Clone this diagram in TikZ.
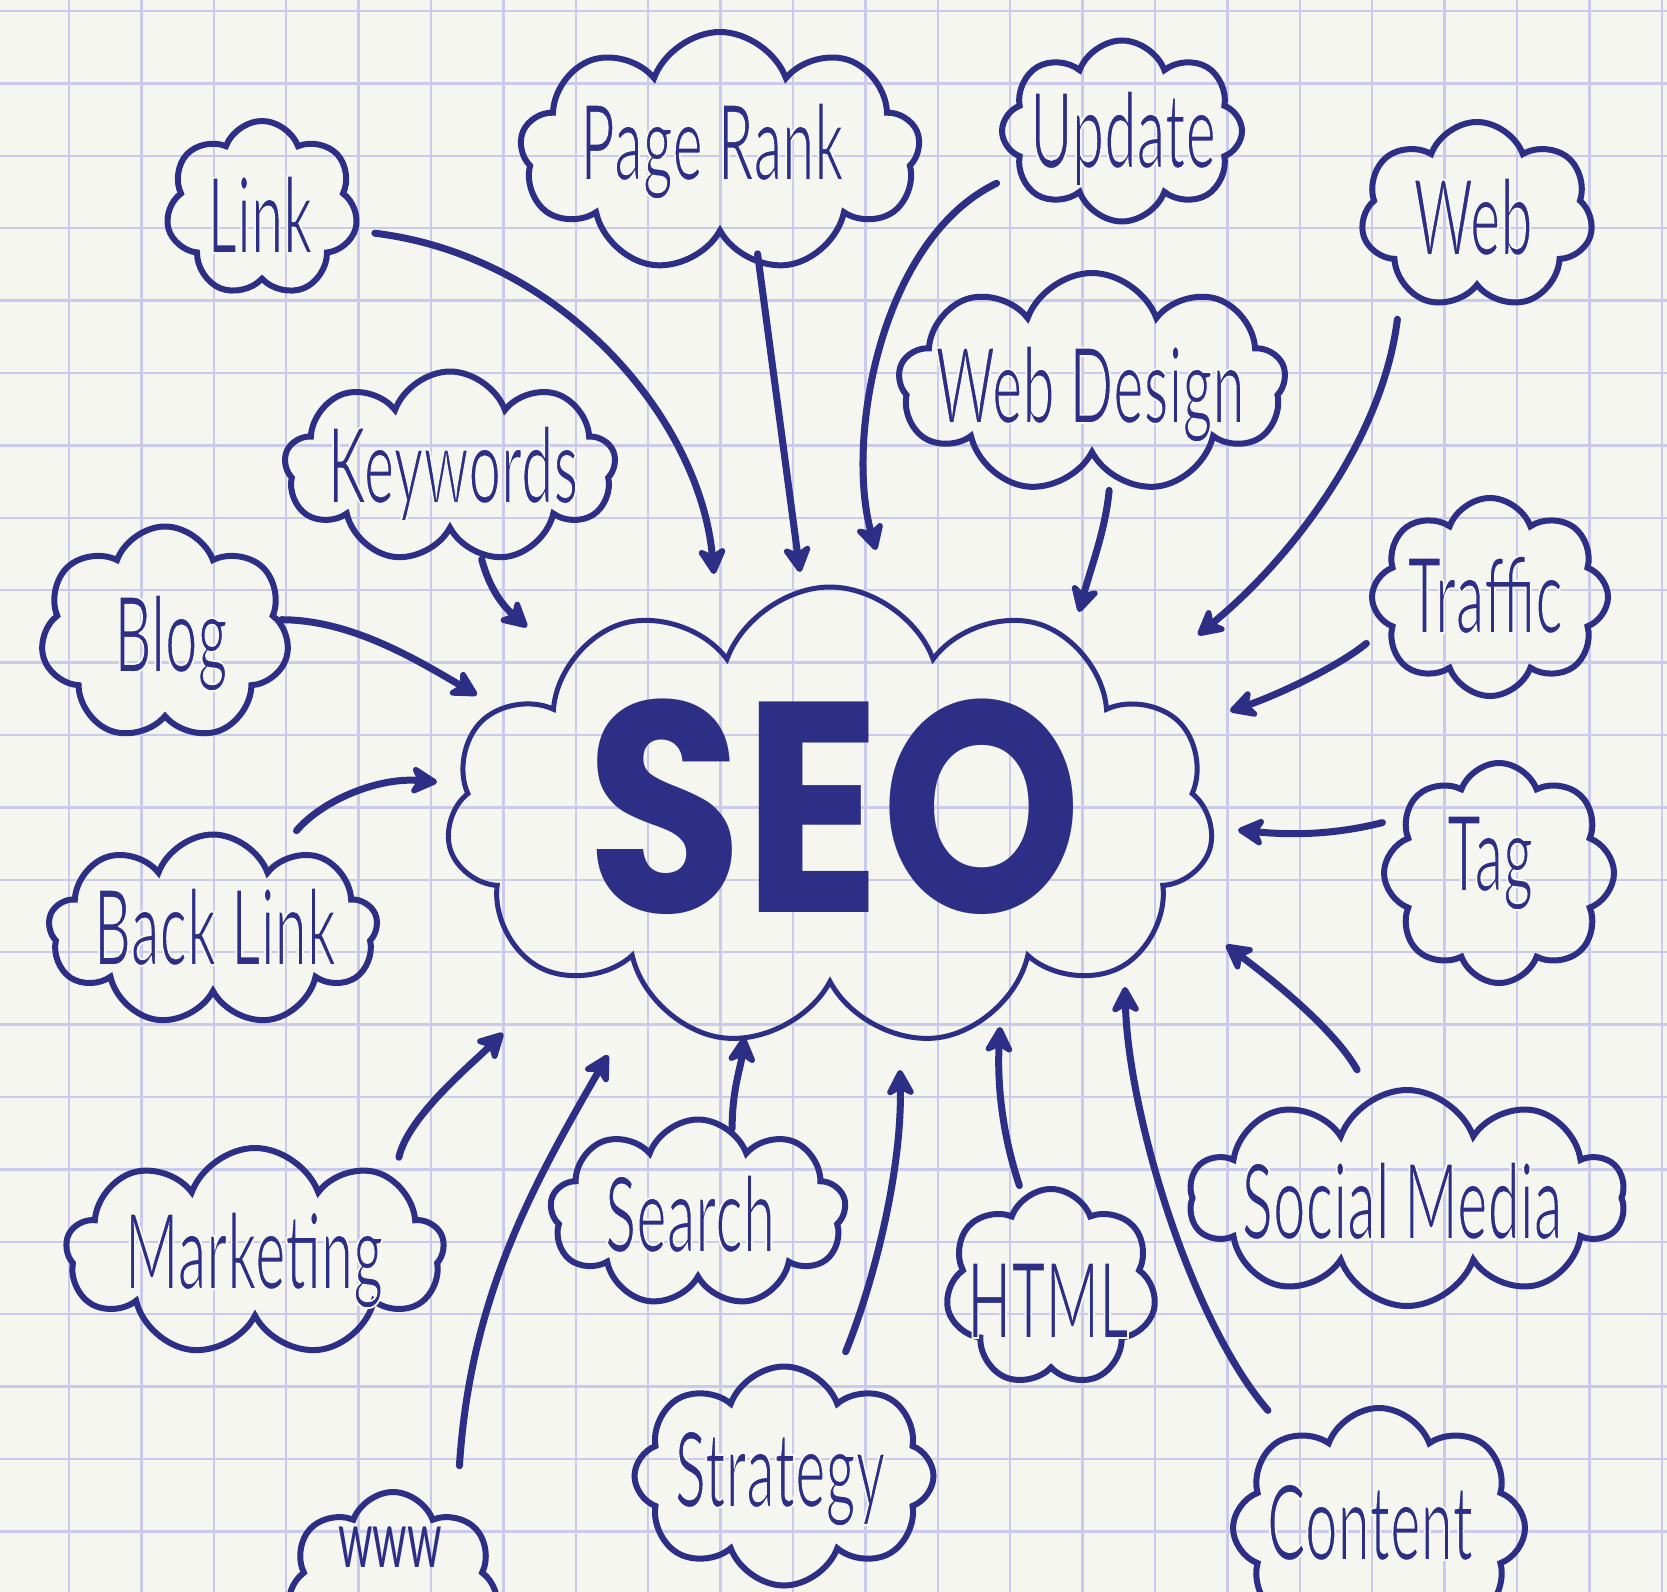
\documentclass[tikz,border=0pt]{standalone}
\usepackage{fontspec}
\usetikzlibrary{shapes.symbols,arrows.meta}

\newfontfamily\handfont{Lato}[FakeStretch=0.55]
\newfontfamily\seofont{Poppins}[FakeStretch=0.85]

\definecolor{paper}{RGB}{245,246,240}
\definecolor{gridblue}{RGB}{203,201,236}
\definecolor{ink}{RGB}{45,46,134}

% thin pen: glyphs get a paper coloured rim, so the strokes look finer
\newcommand{\pen}[1]{\special{pdf:bcolor [0.176 0.180 0.525] [0.961 0.965 0.941]}%
  \special{pdf:literal 2 Tr 1.8 w}#1\special{pdf:literal 0 Tr}\special{pdf:ecolor}}

\tikzset{
  gridline/.style={gridblue, line width=2.5pt},
  bubble/.style={cloud, cloud puffs=8, cloud puff arc=140, cloud ignores aspect,
    draw=ink, line width=6pt, inner sep=0pt},
  word/.style={text=ink, anchor=base, inner sep=0pt,
    font=\handfont\fontsize{105}{110}\selectfont},
  pointer/.style={draw=ink, line width=7pt, line cap=round,
    -{Stealth[length=32pt, width=34pt, inset=9pt, round]}}
}

\begin{document}
\begin{tikzpicture}[x=1pt, y=-1pt]
    % Paper and its grid
    \useasboundingbox (0,0) rectangle (1667,1592);
    \clip (0,0) rectangle (1667,1592);
    \fill[paper] (0,0) rectangle (1667,1592);
    \foreach \i in {0,...,22}
        \draw[gridline] ({69+72.4*\i},0) -- ({69+72.4*\i},1592);
    \foreach \j in {0,...,21}
        \draw[gridline] (0,{11+72.4*\j}) -- (1667,{11+72.4*\j});

    % The big cloud in the middle
    \node[bubble, cloud puffs=11, line width=5pt,
          minimum width=767pt, minimum height=460pt] (seo) at (830,817) {};
    \node[text=ink, anchor=base, inner sep=0pt,
          font=\seofont\bfseries\fontsize{300}{300}\selectfont] (seo-t) at (834,912) {SEO};

    % Where the arrow heads stop, round the big cloud
    \coordinate (link-in) at ([shift={(-116,-243)}]seo.center);
    \coordinate (pagerank-in) at ([shift={(-30,-245)}]seo.center);
    \coordinate (update-in) at ([shift={(46,-267)}]seo.center);
    \coordinate (webdesign-in) at ([shift={(249,-205)}]seo.center);
    \coordinate (web-in) at ([shift={(368,-182)}]seo.center);
    \coordinate (keywords-in) at ([shift={(-303,-190)}]seo.center);
    \coordinate (blog-in) at ([shift={(-353,-122)}]seo.center);
    \coordinate (backlink-in) at ([shift={(-393,-35)}]seo.center);
    \coordinate (traffic-in) at ([shift={(400,-106)}]seo.center);
    \coordinate (tag-in) at ([shift={(408,13)}]seo.center);
    \coordinate (socialmedia-in) at ([shift={(396,128)}]seo.center);
    \coordinate (content-in) at ([shift={(295,170)}]seo.center);
    \coordinate (html-in) at ([shift={(170,210)}]seo.center);
    \coordinate (strategy-in) at ([shift={(70,253)}]seo.center);
    \coordinate (search-in) at ([shift={(-86,220)}]seo.center);
    \coordinate (www-in) at ([shift={(-222,238)}]seo.center);
    \coordinate (marketing-in) at ([shift={(-327,216)}]seo.center);

    % Clouds round it
    \node[bubble, cloud puffs=7, minimum width=192pt, minimum height=176pt] (link) at (262,209) {};
    \node[word] (link-t) at (260,253) {\pen{Link}};
    \node[bubble, cloud puffs=9, minimum width=400pt, minimum height=240pt] (pagerank) at (720,152) {};
    \node[word] (pagerank-t) at (712,180) {\pen{Page Rank}};
    \node[bubble, minimum width=240pt, minimum height=181pt] (update) at (1122,131) {};
    \node[word] (update-t) at (1123,168) {\pen{Update}};
    \node[bubble, cloud puffs=7, minimum width=232pt, minimum height=188pt] (web) at (1477,216) {};
    \node[word] (web-t) at (1473,255) {\pen{Web}};
    \node[bubble, cloud puffs=9, minimum width=387pt, minimum height=220pt] (webdesign) at (1092,383) {};
    \node[word] (webdesign-t) at (1090,423) {\pen{Web Design}};
    \node[bubble, cloud puffs=9, minimum width=331pt, minimum height=191pt] (keywords) at (450,467) {};
    \node[word] (keywords-t) at (453,503) {\pen{Keywords}};
    \node[bubble, cloud puffs=7, minimum width=249pt, minimum height=215pt] (blog) at (165,634) {};
    \node[word] (blog-t) at (171,672) {\pen{Blog}};
    \node[bubble, cloud puffs=9, minimum width=329pt, minimum height=191pt] (backlink) at (213,930) {};
    \node[word] (backlink-t) at (215,965) {\pen{Back Link}};
    \node[bubble, minimum width=236pt, minimum height=198pt] (traffic) at (1490,597) {};
    \node[word] (traffic-t) at (1485,633) {\pen{Traffic}};
    \node[bubble, minimum width=230pt, minimum height=220pt] (tag) at (1499,873) {};
    \node[word] (tag-t) at (1490,891) {\pen{Tag}};
    \node[bubble, cloud puffs=9, minimum width=378pt, minimum height=208pt] (marketing) at (255,1252) {};
    \node[word] (marketing-t) at (254,1289) {\pen{Marketing}};
    \node[bubble, cloud puffs=9, minimum width=296pt, minimum height=187pt] (search) at (698,1213) {};
    \node[word] (search-t) at (690,1252) {\pen{Search}};
    \node[bubble, cloud puffs=7, minimum width=211pt, minimum height=198pt] (html) at (1051,1288) {};
    \node[word] (html-t) at (1048,1338) {\pen{HTML}};
    \node[bubble, cloud puffs=10, minimum width=436pt, minimum height=216pt] (socialmedia) at (1407,1198) {};
    \node[word] (socialmedia-t) at (1402,1239) {\pen{Social Media}};
    \node[bubble, minimum width=299pt, minimum height=219pt] (strategy) at (784,1476) {};
    \node[word] (strategy-t) at (780,1507) {\pen{Strategy}};
    \node[bubble, cloud puffs=7, minimum width=212pt, minimum height=196pt] (www) at (393,1590) {};
    \node[word, font=\handfont\fontsize{80}{80}\selectfont] (www-t) at (390,1567) {www};
    \node[bubble, minimum width=292pt, minimum height=240pt] (content) at (1379,1528) {};
    \node[word] (content-t) at (1370,1560) {\pen{Content}};

    % Arrows into the big cloud
    \draw[pointer, shorten <=17pt] (link.-13) .. controls +(205,25) and +(-14,-154) .. (link-in);
    \draw[pointer, shorten <=-12pt] (pagerank.-71) -- (pagerank-in);
    \draw[pointer, shorten <=23pt] (update.202) .. controls +(-137,66) and +(-31,-110) .. (update-in);
    \draw[pointer, shorten <=13pt] (webdesign.-79) .. controls +(-5,53) and +(12,-45) .. (webdesign-in);
    \draw[pointer, shorten <=33pt] (web.223) .. controls +(-19,154) and +(92,-75) .. (web-in);
    \draw[pointer, shorten <=2pt] (keywords.-71) .. controls +(8,30) and +(-25,-22) .. (keywords-in);
    \draw[pointer] (blog.7) .. controls +(70,0) and +(-60,-35) .. (blog-in);
    \draw[pointer, shorten <=45pt] (backlink.50) .. controls +(54,-64) and +(-60,-5) .. (backlink-in);
    \draw[pointer, shorten <=26pt] (traffic.196) .. controls +(-48,40) and +(45,-15) .. (traffic-in);
    \draw[pointer, shorten <=21pt] (tag.150) .. controls +(-71,18) and +(50,5) .. (tag-in);
    \draw[pointer, shorten <=30pt] (socialmedia.109) .. controls +(-39,-69) and +(40,30) .. (socialmedia-in);
    \draw[pointer, shorten <=31pt] (content.134) .. controls +(-99,-115) and +(3,123) .. (content-in);
    \draw[pointer, shorten <=11pt] (html.107) .. controls +(-20,-60) and +(-3,60) .. (html-in);
    \draw[pointer, shorten <=38pt] (strategy.62) .. controls +(43,-106) and +(2,100) .. (strategy-in);
    \draw[pointer] (search.68) .. controls +(0,-40) and +(-3,30) .. (search-in);
    \draw[pointer, shorten <=49pt] (www.50) .. controls +(14,-218) and +(-75,130) .. (www-in);
    \draw[pointer, shorten <=21pt] (marketing.28) .. controls +(13,-61) and +(-30,30) .. (marketing-in);
\end{tikzpicture}
\end{document}
